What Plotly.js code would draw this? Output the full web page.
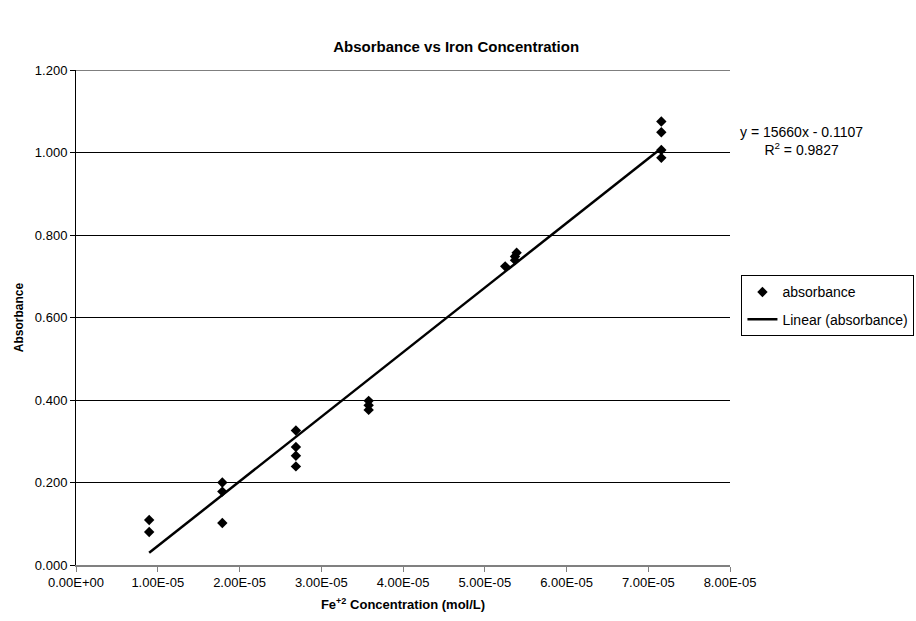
<!DOCTYPE html>
<html>
<head>
<meta charset="utf-8">
<script src="https://cdn.plot.ly/plotly-3.0.1.min.js"></script>
<style>html,body{margin:0;padding:0;background:#fff;}#chart{width:916px;height:621px;}</style>
</head>
<body>
<div id="chart"></div>
<script>
// Data
const concentration = [
  8.95e-6, 8.95e-6,
  1.79e-5, 1.79e-5, 1.79e-5,
  2.69e-5, 2.69e-5, 2.69e-5, 2.69e-5,
  3.58e-5, 3.58e-5, 3.58e-5,
  5.25e-5, 5.37e-5, 5.37e-5, 5.39e-5,
  7.16e-5, 7.16e-5, 7.16e-5, 7.16e-5
];
const absorbance = [
  0.109, 0.080,
  0.200, 0.178, 0.102,
  0.326, 0.286, 0.265, 0.239,
  0.398, 0.387, 0.376,
  0.724, 0.739, 0.748, 0.757,
  1.075, 1.049, 1.006, 0.987
];
const slope = 15660;
const intercept = -0.1107;
const rSquared = 0.9827;
const xTickVals = [0, 1e-5, 2e-5, 3e-5, 4e-5, 5e-5, 6e-5, 7e-5, 8e-5];
const xTickText = ["0.00E+00","1.00E-05","2.00E-05","3.00E-05","4.00E-05","5.00E-05","6.00E-05","7.00E-05","8.00E-05"];
const yMax = 1.2;

const xMin = Math.min(...concentration), xMax = Math.max(...concentration);
const trendX = [xMin, xMax];
const trendY = trendX.map(x => slope * x + intercept);

const font = "Liberation Sans, Arial, sans-serif";

const traces = [
  {
    x: concentration, y: absorbance, mode: 'markers', type: 'scatter',
    name: 'absorbance', legendgroup: 'a',
    marker: {symbol: 'diamond', size: 8, color: '#000'}
  },
  {
    x: trendX, y: trendY, mode: 'lines', type: 'scatter',
    name: 'Linear (absorbance)', legendgroup: 'b',
    line: {color: '#000', width: 2.5}
  }
];

const layout = {
  width: 916, height: 621,
  margin: {l: 76, r: 186, t: 70, b: 56, autoexpand: false},
  paper_bgcolor: '#fff', plot_bgcolor: '#fff',
  font: {family: font, size: 13, color: '#000'},
  showlegend: true,
  title: {
    text: '<b>Absorbance vs Iron Concentration</b>',
    font: {family: font, size: 15, color: '#000'},
    x: 0.498, xref: 'container', xanchor: 'center',
    y: 0.924, yref: 'container', yanchor: 'middle'
  },
  xaxis: {
    range: [0, 8e-5],
    tickvals: xTickVals, ticktext: xTickText,
    ticks: 'outside', ticklen: 5, tickcolor: '#808080', tickwidth: 1,
    showline: true, linecolor: '#808080', linewidth: 1.5,
    showgrid: false, zeroline: false,
    tickfont: {family: font, size: 13, color: '#000'},
    title: {text: '<b>Fe<sup>+2</sup> Concentration (mol/L)</b>', font: {family: font, size: 13, color: '#000'}, standoff: 11}
  },
  yaxis: {
    range: [0, yMax],
    dtick: 0.2, tick0: 0, tickformat: '.3f',
    ticks: 'outside', ticklen: 5, tickcolor: '#000', tickwidth: 1,
    showline: true, linecolor: '#000', linewidth: 1,
    showgrid: true, gridcolor: '#000', gridwidth: 1,
    zeroline: false,
    tickfont: {family: font, size: 13, color: '#000'},
    title: {text: '<b>Absorbance</b>', font: {family: font, size: 12, color: '#000'}, standoff: 8}
  },
  shapes: [
    {type: 'line', xref: 'paper', yref: 'y', x0: 0, x1: 1, y0: yMax, y1: yMax,
     line: {color: '#000', width: 1}}
  ],
  legend: {
    x: 1.0175, xanchor: 'left', y: 0.585, yanchor: 'top',
    bordercolor: '#000', borderwidth: 1, bgcolor: '#fff',
    font: {family: font, size: 14, color: '#000'},
    traceorder: 'grouped', tracegroupgap: 6, itemwidth: 30
  },
  annotations: [
    {
      xref: 'paper', yref: 'paper', x: 1.11, y: 0.857, xanchor: 'center', yanchor: 'middle',
      text: 'y = ' + slope + 'x - ' + Math.abs(intercept) + '<br>R<sup>2</sup> = ' + rSquared,
      showarrow: false, align: 'center',
      font: {family: font, size: 14, color: '#000'}
    }
  ]
};

Plotly.newPlot('chart', traces, layout, {displayModeBar: false, staticPlot: true});
</script>
</body>
</html>
